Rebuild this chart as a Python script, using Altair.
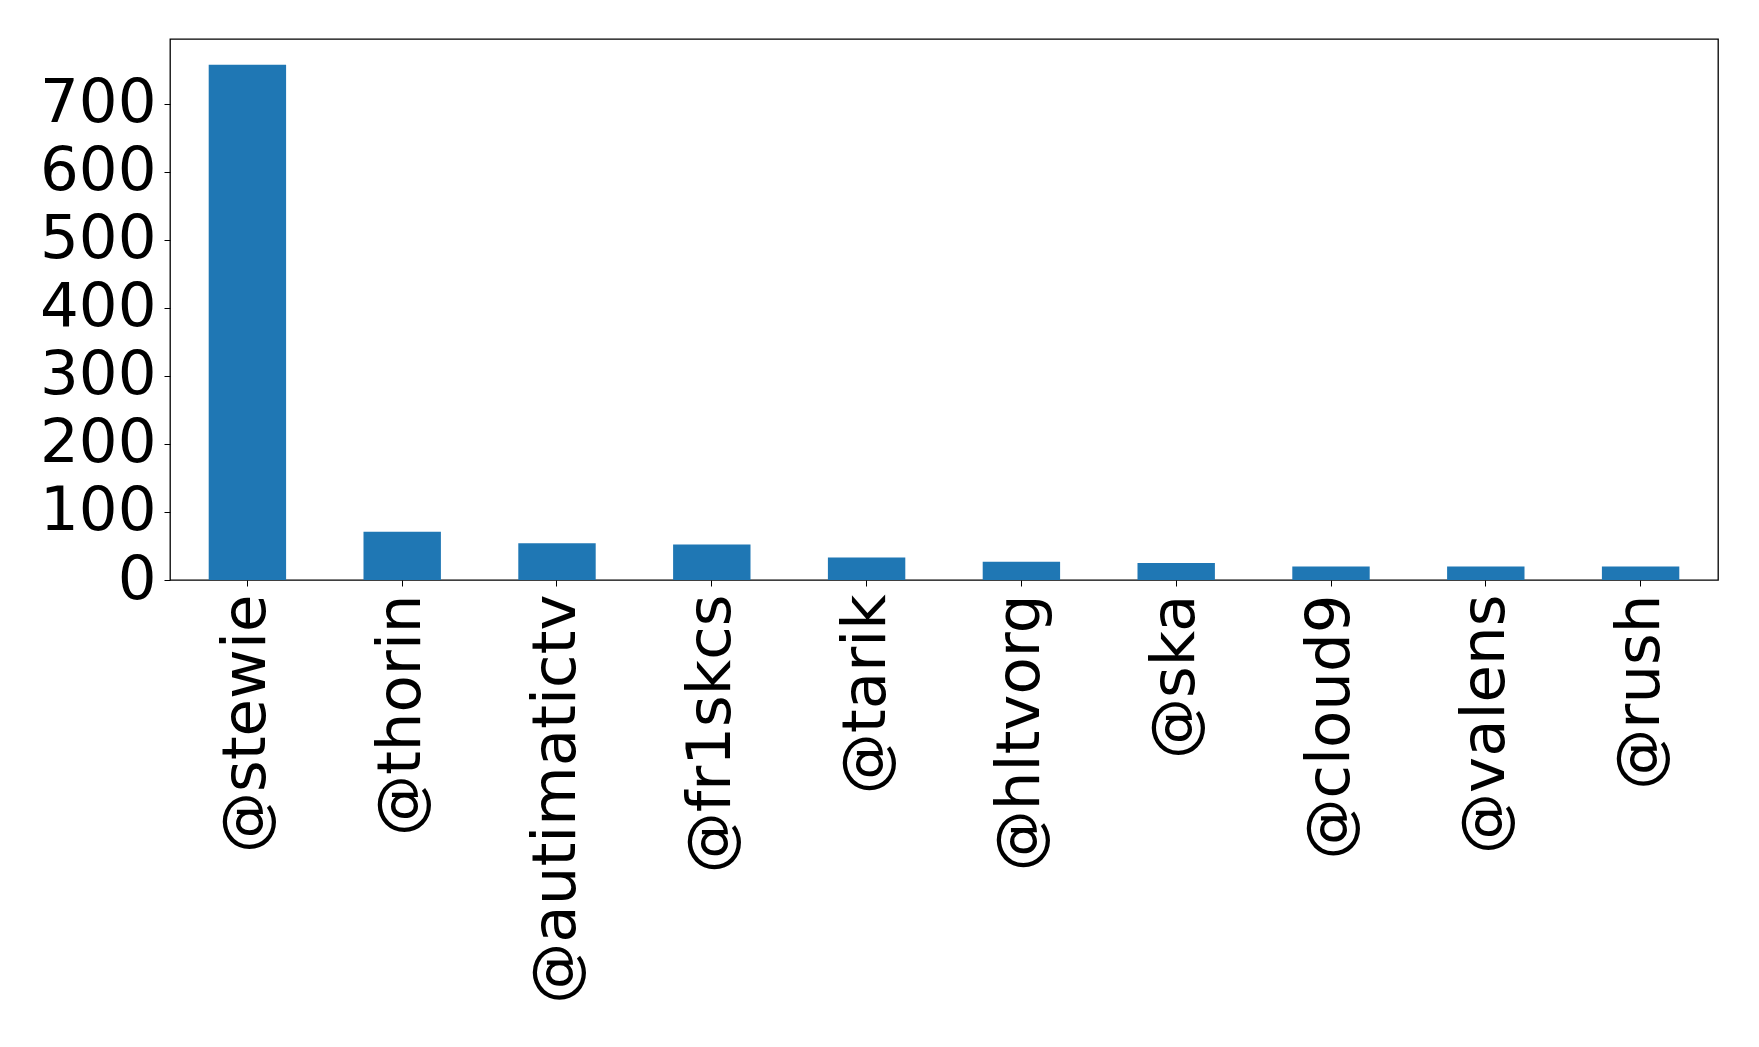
import altair as alt
import pandas as pd

# handles and counts
handles = ["@stewie", "@thorin", "@autimatictv", "@fr1skcs", "@tarik",
           "@hltvorg", "@ska", "@cloud9", "@valens", "@rush"]
counts = [757, 71, 54, 52, 33, 27, 25, 20, 20, 20]
y_ticks = [0, 100, 200, 300, 400, 500, 600, 700]

data = pd.DataFrame({"handle": handles, "count": counts})

chart = alt.Chart(data).mark_bar(color="#1f77b4").encode(
    x=alt.X("handle:N", sort=handles, title=None,
            scale=alt.Scale(paddingInner=0.5, paddingOuter=0.25),
            axis=alt.Axis(labelAngle=-90, labelFontSize=61, labelFont="DejaVu Sans",
                          labelColor="black", tickColor="black", tickSize=6,
                          labelPadding=8, domain=False, labelLimit=0)),
    y=alt.Y("count:Q", title=None,
            scale=alt.Scale(domain=[0, 795], nice=False),
            axis=alt.Axis(values=y_ticks, labelFontSize=61, labelFont="DejaVu Sans",
                          labelColor="black", tickColor="black", tickSize=6,
                          labelPadding=8, grid=False, domain=False)),
).properties(
    width=1548,
    height=541,
    autosize=alt.AutoSizeParams(type="none"),
    padding={"left": 162, "top": 31, "right": 20, "bottom": 450},
).configure(
    background="white"
).configure_view(
    stroke="black", strokeWidth=1.3
)

chart.save("out.html", embed_options={"renderer": "svg", "actions": False})
